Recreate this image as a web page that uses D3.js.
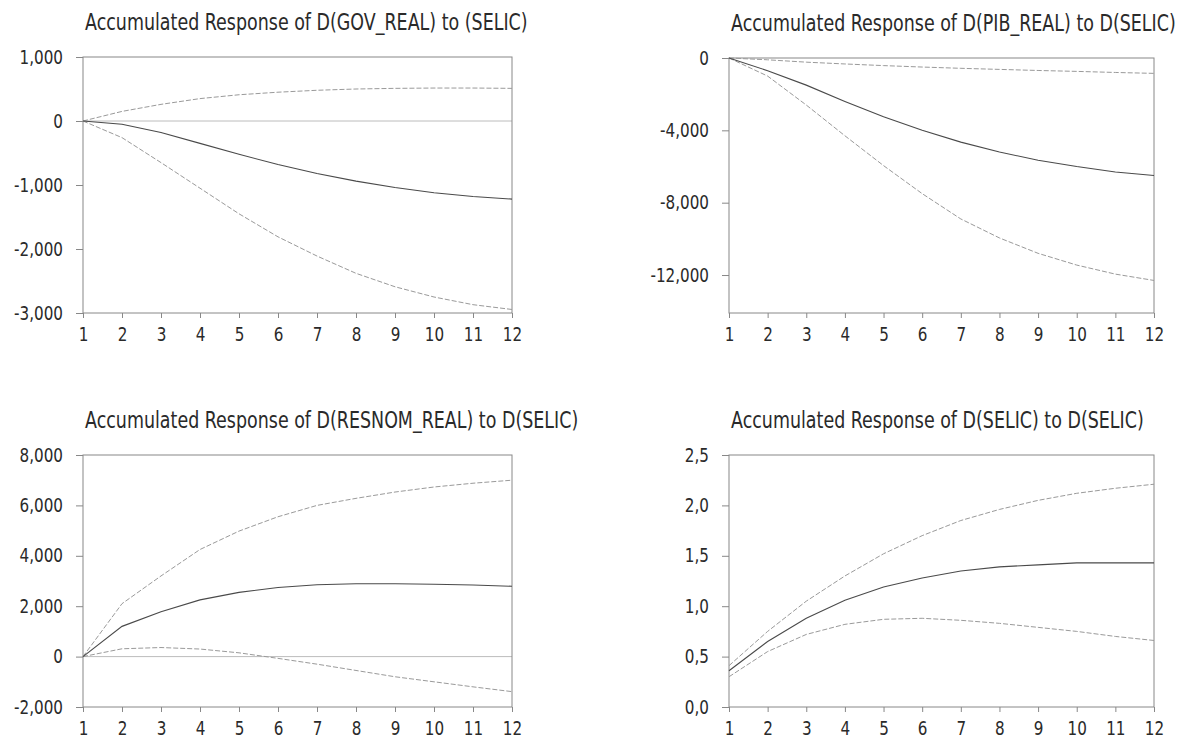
<!DOCTYPE html>
<meta charset="utf-8">
<script src="https://d3js.org/d3.v7.min.js"></script>
<style>
  body { margin: 0; background: #fff; }
  text { font-family: "DejaVu Sans", sans-serif; fill: #2a2a2a; }
</style>
<div id="my_dataviz"></div>
<script>

// horizon (periods)
var periods = [1, 2, 3, 4, 5, 6, 7, 8, 9, 10, 11, 12]

// D(GOV_REAL)
var govResp  = [0, -50, -180, -350, -520, -680, -820, -940, -1040, -1120, -1180, -1220]
var govUpper = [0, 150, 260, 350, 410, 450, 480, 500, 510, 515, 515, 510]
var govLower = [0, -260, -650, -1050, -1450, -1810, -2110, -2380, -2590, -2750, -2870, -2945]

// D(PIB_REAL)
var pibResp  = [0, -700, -1500, -2400, -3250, -4000, -4650, -5200, -5650, -6000, -6300, -6500]
var pibUpper = [0, -100, -230, -330, -420, -500, -570, -630, -690, -740, -800, -850]
var pibLower = [0, -1000, -2600, -4300, -5950, -7500, -8900, -9950, -10800, -11450, -11950, -12300]

// D(RESNOM_REAL)
var resResp  = [0, 1200, 1780, 2250, 2550, 2740, 2850, 2890, 2890, 2870, 2840, 2790]
var resUpper = [0, 2100, 3200, 4250, 4980, 5550, 6000, 6280, 6530, 6730, 6880, 7000]
var resLower = [0, 310, 360, 300, 150, -70, -300, -550, -800, -1000, -1200, -1390]

// D(SELIC)
var selResp  = [0.36, 0.65, 0.88, 1.06, 1.19, 1.28, 1.35, 1.39, 1.41, 1.43, 1.43, 1.43]
var selUpper = [0.41, 0.75, 1.05, 1.30, 1.52, 1.70, 1.85, 1.96, 2.05, 2.12, 2.17, 2.21]
var selLower = [0.30, 0.55, 0.72, 0.82, 0.87, 0.88, 0.86, 0.83, 0.79, 0.75, 0.70, 0.66]

var titles = [
  "Accumulated Response of D(GOV_REAL) to (SELIC)",
  "Accumulated Response of D(PIB_REAL) to D(SELIC)",
  "Accumulated Response of D(RESNOM_REAL) to D(SELIC)",
  "Accumulated Response of D(SELIC) to D(SELIC)"
]
var yTicks = [
  [1000, 0, -1000, -2000, -3000],
  [0, -4000, -8000, -12000],
  [8000, 6000, 4000, 2000, 0, -2000],
  [2.5, 2.0, 1.5, 1.0, 0.5, 0.0]
]
var yDomains = [[-3000, 1000], [-14100, 0], [-2000, 8000], [0, 2.5]]

var enUS = d3.formatLocale({decimal: ".", thousands: ",", grouping: [3], currency: ["$", ""], minus: "-"})
var ptBR = d3.formatLocale({decimal: ",", thousands: ".", grouping: [3], currency: ["R$", ""], minus: "-"})
var formats = [enUS.format(",.0f"), enUS.format(",.0f"), enUS.format(",.0f"), ptBR.format(".1f")]

var series = [
  [govResp, govUpper, govLower],
  [pibResp, pibUpper, pibLower],
  [resResp, resUpper, resLower],
  [selResp, selUpper, selLower]
]
var zeroLine = [true, false, true, false]

var width = 1185, height = 745
var sx = 0.8   // horizontal squeeze to imitate the condensed face

// panel boxes: left, right, top, bottom
var boxes = [
  [83, 512, 57, 313],
  [729, 1154, 58, 313],
  [83, 512, 455, 707],
  [729, 1154, 455, 707]
]

var svg = d3.select("#my_dataviz")
  .append("svg")
    .attr("width", width)
    .attr("height", height)

boxes.forEach(function(b, i) {
  var g = svg.append("g")

  var x = d3.scaleLinear().domain([1, 12]).range([b[0], b[1]])
  var y = d3.scaleLinear().domain(yDomains[i]).range([b[3], b[2]])

  // title
  g.append("text")
    .attr("transform", "translate(" + (b[0] + 2) + "," + (b[2] - 27) + ") scale(0.76,1)")
    .style("font-size", "23px")
    .text(titles[i])

  // zero line
  if (zeroLine[i]) {
    g.append("line")
      .attr("x1", b[0]).attr("x2", b[1])
      .attr("y1", y(0)).attr("y2", y(0))
      .attr("stroke", "#bcbcbc")
      .attr("stroke-width", 1)
  }

  // y axis
  var yAxis = g.append("g")
    .attr("transform", "translate(" + b[0] + ",0)")
    .call(d3.axisLeft(y).tickValues(yTicks[i]).tickSize(7).tickFormat(formats[i]))
  yAxis.select(".domain").remove()
  yAxis.selectAll(".tick line").attr("stroke", "#888")
  yAxis.selectAll("text")
    .style("font-size", "19px")
    .attr("x", -20 / sx)
    .attr("transform", "scale(" + sx + ",1)")

  // x axis
  var xAxis = g.append("g")
    .attr("transform", "translate(0," + b[3] + ")")
    .call(d3.axisBottom(x).tickValues(periods).tickSize(5).tickPadding(10).tickFormat(d3.format("d")))
  xAxis.select(".domain").remove()
  xAxis.selectAll(".tick line").attr("stroke", "#888")
  xAxis.selectAll("text")
    .style("font-size", "19px")
    .attr("transform", "scale(" + sx + ",1)")

  // frame
  g.append("rect")
    .attr("x", b[0]).attr("y", b[2])
    .attr("width", b[1] - b[0]).attr("height", b[3] - b[2])
    .attr("fill", "none")
    .attr("stroke", "#888")
    .attr("stroke-width", 1)

  var line = d3.line()
    .x(function(d, j) { return x(periods[j]) })
    .y(function(d) { return y(d) })

  // confidence bands (dashed)
  ;[series[i][1], series[i][2]].forEach(function(s) {
    g.append("path")
      .attr("d", line(s))
      .attr("fill", "none")
      .attr("stroke", "#9a9a9a")
      .attr("stroke-width", 1)
      .attr("stroke-dasharray", "5,2")
  })

  // response (solid)
  g.append("path")
    .attr("d", line(series[i][0]))
    .attr("fill", "none")
    .attr("stroke", "#4a4a4a")
    .attr("stroke-width", 1.1)
})

</script>
